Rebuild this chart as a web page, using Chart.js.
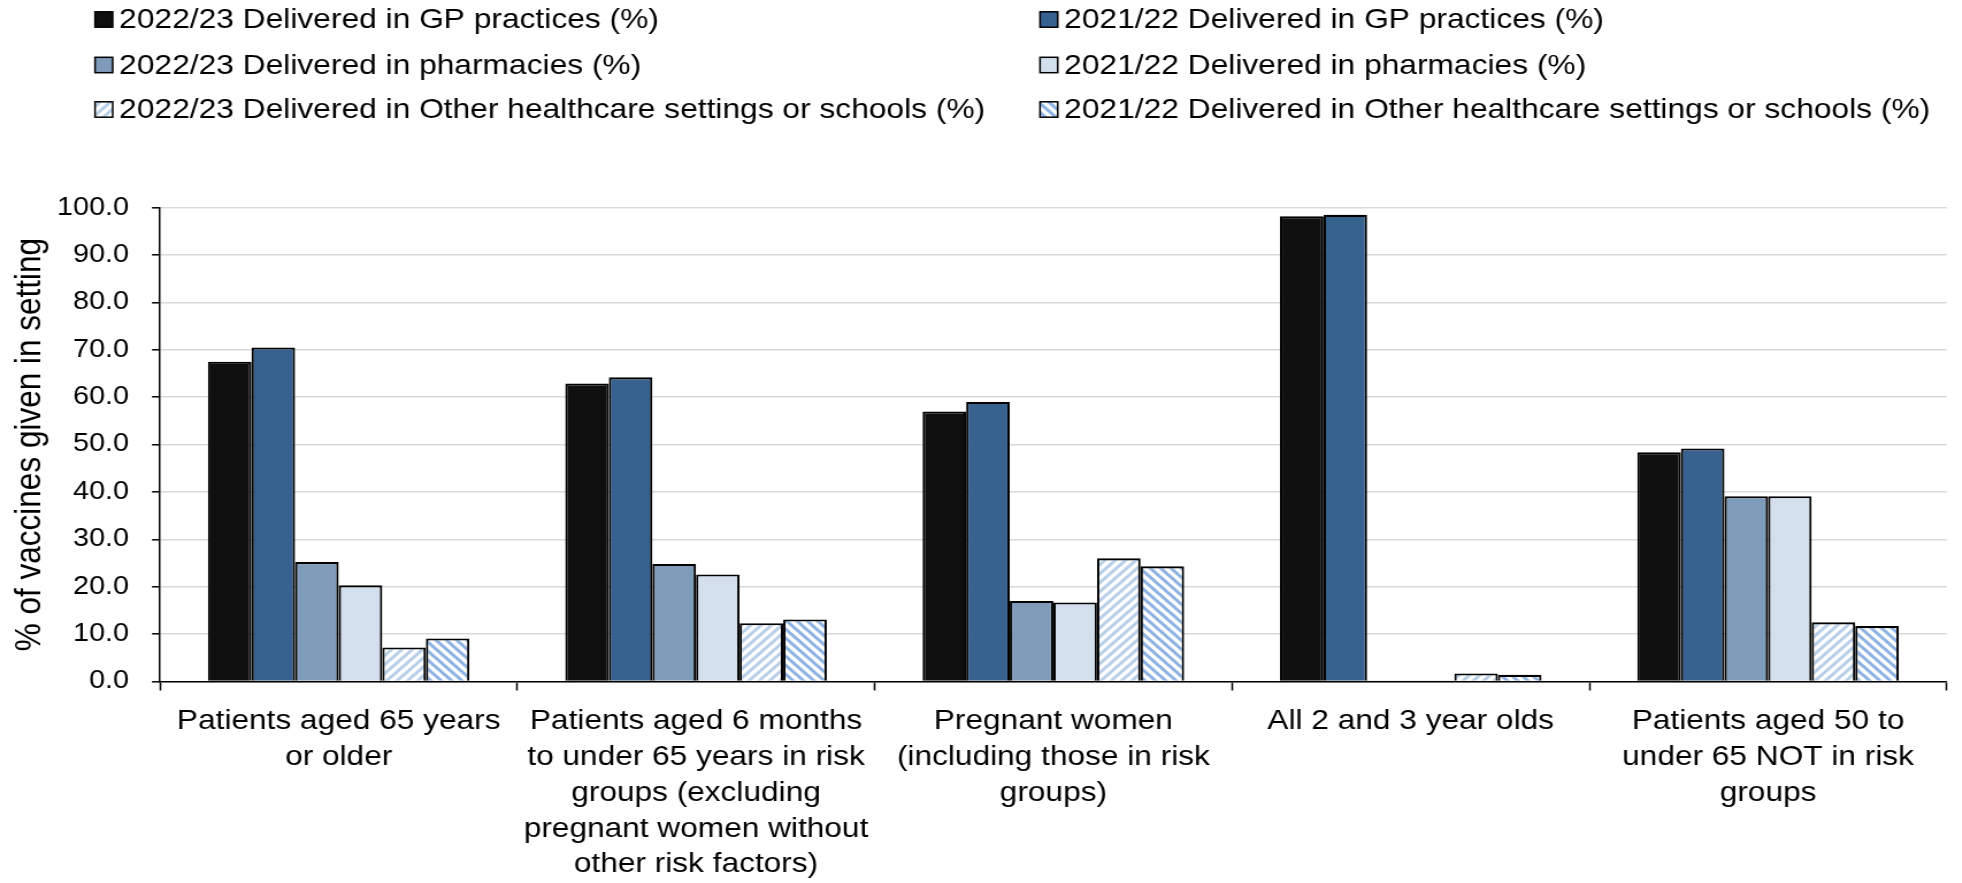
<!DOCTYPE html>
<html>
<head>
<meta charset="utf-8">
<script src="https://cdn.jsdelivr.net/npm/chart.js@4/dist/chart.umd.min.js"></script>
<style>
  html, body { margin: 0; padding: 0; background: #fff; overflow: hidden; }
  #wrap { position: absolute; left: 0; top: 0; transform-origin: 0 0; }
</style>
</head>
<body>
<div id="wrap"><canvas id="chart"></canvas></div>
<script>
// Categories (x-axis groups), one multi-line label per group
const categories = [
  ["Patients aged 65 years", "or older"],
  ["Patients aged 6 months", "to under 65 years in risk", "groups (excluding", "pregnant women without", "other risk factors)"],
  ["Pregnant women", "(including those in risk", "groups)"],
  ["All 2 and 3 year olds"],
  ["Patients aged 50 to", "under 65 NOT in risk", "groups"]
];

// Share of vaccines given in each setting (%)
const gp2223    = [67.5, 62.9, 57.0, 98.2, 48.4];
const gp2122    = [70.5, 64.2, 59.0, 98.5, 49.2];
const pharm2223 = [25.2, 24.8, 17.0, 0.1, 39.1];
const pharm2122 = [20.3, 22.6, 16.7, 0.1, 39.1];
const other2223 = [7.2, 12.3, 26.0, 1.7, 12.5];
const other2122 = [9.1, 13.1, 24.3, 1.4, 11.7];

const seriesLabels = [
  "2022/23 Delivered in GP practices (%)",
  "2021/22 Delivered in GP practices (%)",
  "2022/23 Delivered in pharmacies (%)",
  "2021/22 Delivered in pharmacies (%)",
  "2022/23 Delivered in Other healthcare settings or schools (%)",
  "2021/22 Delivered in Other healthcare settings or schools (%)"
];

const yTicks = [0, 10, 20, 30, 40, 50, 60, 70, 80, 90, 100];
const yTitle = "% of vaccines given in setting";

// Page geometry: the chart is drawn on a narrower canvas and widened horizontally
const SX = 1.15;
const PAGE_W = 1962, PAGE_H = 883;
const W = PAGE_W / SX, H = PAGE_H;
const PLOT_LEFT = 160 / SX, PLOT_RIGHT = 1946.7 / SX, PLOT_TOP = 207.7, PLOT_BOTTOM = 681.5;

const wrap = document.getElementById('wrap');
wrap.style.width = W + 'px';
wrap.style.height = H + 'px';
wrap.style.transform = 'scaleX(' + SX + ')';

const FONT = "'Liberation Sans', Arial, sans-serif";

function stripePattern(color, dir) {
  const s = 9;
  const c = document.createElement('canvas');
  c.width = s; c.height = s;
  const g = c.getContext('2d');
  g.fillStyle = '#fff';
  g.fillRect(0, 0, s, s);
  g.strokeStyle = color;
  g.lineWidth = 3;
  g.beginPath();
  if (dir === '/') {
    g.moveTo(-1, s + 1); g.lineTo(s + 1, -1);
    g.moveTo(-s / 2 - 1, s / 2 + 1); g.lineTo(s / 2 + 1, -s / 2 - 1);
    g.moveTo(s / 2 - 1, s * 1.5 + 1); g.lineTo(s * 1.5 + 1, s / 2 - 1);
  } else {
    g.moveTo(-1, -1); g.lineTo(s + 1, s + 1);
    g.moveTo(-s / 2 - 1, s / 2 - 1); g.lineTo(s / 2 + 1, s * 1.5 + 1);
    g.moveTo(s / 2 - 1, -s / 2 - 1); g.lineTo(s * 1.5 + 1, s / 2 + 1);
  }
  g.stroke();
  return g.createPattern(c, 'repeat');
}

const fills = [
  '#0f0f0f',
  '#37618f',
  '#809bb9',
  '#d3dfed',
  stripePattern('#b8cfe9', '/'),
  stripePattern('#8db3e2', '\\')
];
const seriesData = [gp2223, gp2122, pharm2223, pharm2122, other2223, other2122];

const datasets = seriesData.map((d, i) => ({
  label: seriesLabels[i],
  data: d,
  backgroundColor: fills[i],
  borderColor: '#000',
  borderWidth: 2.1,
  categoryPercentage: 0.732,
  barPercentage: 1.0
}));

// Legend laid out as a two-column grid above the plot
const LEGEND_COL_X = [95 / SX, 1040 / SX];
const LEGEND_ROW_Y = [19.5, 65, 109.5];
const gridLegend = {
  id: 'gridLegend',
  afterDraw(chart) {
    const ctx = chart.ctx;
    chart.data.datasets.forEach((ds, i) => {
      const x = LEGEND_COL_X[i % 2];
      const y = LEGEND_ROW_Y[Math.floor(i / 2)];
      const bw = 15.4, bh = 15.4;
      ctx.save();
      ctx.fillStyle = ds.backgroundColor;
      ctx.fillRect(x, y - bh / 2, bw, bh);
      ctx.strokeStyle = '#000';
      ctx.lineWidth = 1.5;
      ctx.strokeRect(x, y - bh / 2, bw, bh);
      ctx.fillStyle = '#000';
      ctx.font = '27.6px ' + FONT;
      ctx.textBaseline = 'middle';
      ctx.textAlign = 'left';
      ctx.fillText(ds.label, x + 21, y + 1);
      ctx.restore();
    });
  }
};

new Chart(document.getElementById('chart'), {
  type: 'bar',
  data: { labels: categories, datasets: datasets },
  plugins: [gridLegend],
  options: {
    responsive: true,
    maintainAspectRatio: false,
    animation: false,
    devicePixelRatio: 1,
    layout: { padding: { top: PLOT_TOP, right: W - PLOT_RIGHT, left: 0, bottom: 0 } },
    plugins: {
      legend: { display: false },
      tooltip: { enabled: false }
    },
    scales: {
      x: {
        offset: true,
        grid: {
          display: true,
          offset: true,
          drawOnChartArea: false,
          drawTicks: true,
          tickLength: 9,
          tickColor: '#000',
          tickWidth: 1.5
        },
        border: { display: true, color: '#000', width: 1.5 },
        ticks: {
          color: '#000',
          autoSkip: false,
          maxRotation: 0,
          minRotation: 0,
          padding: 13.5,
          font: { family: FONT, size: 27.5, lineHeight: 1.3 }
        },
        afterFit(scale) { scale.height = H - PLOT_BOTTOM; }
      },
      y: {
        min: 0,
        max: 100,
        afterBuildTicks(scale) { scale.ticks = yTicks.map(v => ({ value: v })); },
        grid: {
          color: '#d9d9d9',
          lineWidth: 1.6,
          drawTicks: true,
          tickLength: 7,
          tickColor: '#000',
          tickWidth: 1.5
        },
        border: { display: true, color: '#000', width: 1.5 },
        ticks: {
          color: '#000',
          padding: 20,
          font: { family: FONT, size: 25 },
          callback: v => Number(v).toFixed(1)
        },
        title: {
          display: true,
          text: yTitle,
          color: '#000',
          font: { family: FONT, size: 31.5 },
          padding: { top: 7.2, bottom: 0 }
        },
        afterFit(scale) { scale.width = PLOT_LEFT; }
      }
    }
  }
});
</script>
</body>
</html>
